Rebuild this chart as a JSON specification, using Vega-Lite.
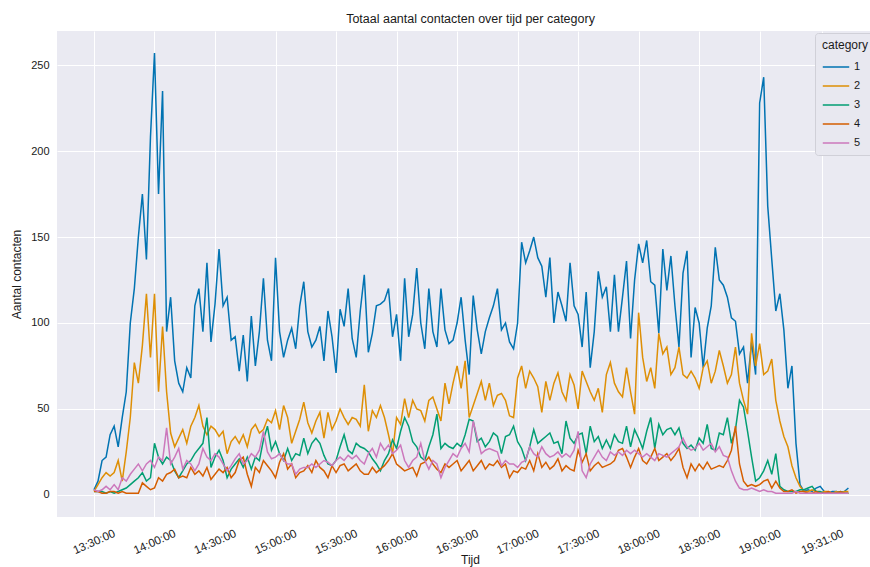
{
"$schema": "https://vega.github.io/schema/vega-lite/v6.json",
"width": 813, "height": 486,
"autosize": {"type": "none"},
"padding": {"left": 57, "top": 31, "right": 0, "bottom": 50},
"background": "white",
"title": {"text": "Totaal aantal contacten over tijd per category", "anchor": "middle", "dx": 7, "fontSize": 12.5, "fontWeight": "normal", "font": "Liberation Sans", "color": "#1a1a1a", "offset": 6},
"data": {"format": {"parse": {"t": "date:'%H:%M'"}}, "values": [
{"t":"13:30","1":3,"2":2,"3":2,"4":2,"5":3},
{"t":"13:32","1":8,"2":6,"3":2,"4":2,"5":2},
{"t":"13:34","1":20,"2":10,"3":2,"4":1,"5":3},
{"t":"13:36","1":22,"2":13,"3":1,"4":1,"5":5},
{"t":"13:38","1":35,"2":11,"3":2,"4":2,"5":3},
{"t":"13:40","1":40,"2":13,"3":1,"4":2,"5":6},
{"t":"13:42","1":28,"2":20,"3":2,"4":1,"5":3},
{"t":"13:44","1":45,"2":8,"3":3,"4":2,"5":10},
{"t":"13:46","1":60,"2":25,"3":4,"4":1,"5":8},
{"t":"13:48","1":100,"2":45,"3":6,"4":1,"5":12},
{"t":"13:50","1":120,"2":77,"3":8,"4":1,"5":15},
{"t":"13:52","1":150,"2":65,"3":10,"4":1,"5":18},
{"t":"13:54","1":175,"2":87,"3":13,"4":7,"5":14},
{"t":"13:56","1":137,"2":117,"3":8,"4":5,"5":18},
{"t":"13:58","1":208,"2":80,"3":10,"4":3,"5":20},
{"t":"14:00","1":257,"2":117,"3":30,"4":4,"5":16},
{"t":"14:02","1":175,"2":60,"3":22,"4":10,"5":22},
{"t":"14:04","1":235,"2":98,"3":18,"4":8,"5":20},
{"t":"14:06","1":95,"2":60,"3":22,"4":12,"5":39},
{"t":"14:08","1":115,"2":36,"3":20,"4":13,"5":18},
{"t":"14:10","1":78,"2":28,"3":14,"4":15,"5":22},
{"t":"14:12","1":65,"2":33,"3":10,"4":10,"5":27},
{"t":"14:14","1":60,"2":38,"3":14,"4":11,"5":15},
{"t":"14:16","1":74,"2":30,"3":18,"4":10,"5":20},
{"t":"14:18","1":68,"2":40,"3":20,"4":16,"5":18},
{"t":"14:20","1":110,"2":45,"3":24,"4":12,"5":14},
{"t":"14:22","1":120,"2":52,"3":27,"4":14,"5":18},
{"t":"14:24","1":95,"2":40,"3":30,"4":11,"5":27},
{"t":"14:26","1":135,"2":35,"3":45,"4":16,"5":22},
{"t":"14:28","1":89,"2":40,"3":16,"4":9,"5":20},
{"t":"14:30","1":111,"2":38,"3":22,"4":12,"5":24},
{"t":"14:32","1":143,"2":34,"3":26,"4":15,"5":22},
{"t":"14:34","1":110,"2":37,"3":20,"4":13,"5":18},
{"t":"14:36","1":115,"2":24,"3":10,"4":16,"5":14},
{"t":"14:38","1":90,"2":31,"3":15,"4":10,"5":17},
{"t":"14:40","1":92,"2":34,"3":18,"4":13,"5":21},
{"t":"14:42","1":72,"2":30,"3":21,"4":20,"5":24},
{"t":"14:44","1":93,"2":35,"3":16,"4":22,"5":18},
{"t":"14:46","1":66,"2":28,"3":22,"4":12,"5":20},
{"t":"14:48","1":104,"2":38,"3":15,"4":5,"5":24},
{"t":"14:50","1":75,"2":41,"3":22,"4":16,"5":22},
{"t":"14:52","1":95,"2":36,"3":20,"4":13,"5":26},
{"t":"14:54","1":126,"2":38,"3":32,"4":20,"5":37},
{"t":"14:56","1":90,"2":44,"3":40,"4":17,"5":25},
{"t":"14:58","1":78,"2":42,"3":26,"4":14,"5":21},
{"t":"15:00","1":138,"2":49,"3":31,"4":10,"5":22},
{"t":"15:02","1":95,"2":38,"3":24,"4":19,"5":24},
{"t":"15:04","1":80,"2":52,"3":20,"4":24,"5":20},
{"t":"15:06","1":90,"2":45,"3":27,"4":15,"5":18},
{"t":"15:08","1":97,"2":30,"3":20,"4":18,"5":18},
{"t":"15:10","1":85,"2":37,"3":24,"4":10,"5":12},
{"t":"15:12","1":110,"2":44,"3":23,"4":13,"5":15},
{"t":"15:14","1":124,"2":54,"3":33,"4":14,"5":16},
{"t":"15:16","1":95,"2":42,"3":24,"4":17,"5":16},
{"t":"15:18","1":86,"2":36,"3":30,"4":13,"5":18},
{"t":"15:20","1":90,"2":43,"3":33,"4":20,"5":16},
{"t":"15:22","1":98,"2":48,"3":30,"4":16,"5":18},
{"t":"15:24","1":78,"2":33,"3":23,"4":14,"5":20},
{"t":"15:26","1":107,"2":48,"3":18,"4":10,"5":19},
{"t":"15:28","1":92,"2":38,"3":17,"4":17,"5":17},
{"t":"15:30","1":71,"2":43,"3":20,"4":13,"5":20},
{"t":"15:32","1":108,"2":50,"3":28,"4":17,"5":22},
{"t":"15:34","1":98,"2":45,"3":35,"4":18,"5":20},
{"t":"15:36","1":120,"2":41,"3":26,"4":14,"5":23},
{"t":"15:38","1":91,"2":45,"3":24,"4":16,"5":21},
{"t":"15:40","1":80,"2":44,"3":30,"4":18,"5":23},
{"t":"15:42","1":107,"2":40,"3":28,"4":14,"5":20},
{"t":"15:44","1":128,"2":64,"3":27,"4":12,"5":18},
{"t":"15:46","1":83,"2":37,"3":25,"4":12,"5":24},
{"t":"15:48","1":94,"2":49,"3":21,"4":16,"5":27},
{"t":"15:50","1":110,"2":45,"3":18,"4":13,"5":22},
{"t":"15:52","1":111,"2":52,"3":14,"4":15,"5":30},
{"t":"15:54","1":113,"2":45,"3":20,"4":17,"5":26},
{"t":"15:56","1":120,"2":35,"3":24,"4":20,"5":29},
{"t":"15:58","1":92,"2":24,"3":32,"4":24,"5":24},
{"t":"16:00","1":105,"2":45,"3":27,"4":18,"5":26},
{"t":"16:02","1":78,"2":41,"3":37,"4":16,"5":29},
{"t":"16:04","1":126,"2":56,"3":45,"4":14,"5":20},
{"t":"16:06","1":92,"2":45,"3":40,"4":15,"5":16},
{"t":"16:08","1":105,"2":55,"3":31,"4":16,"5":20},
{"t":"16:10","1":132,"2":50,"3":28,"4":11,"5":22},
{"t":"16:12","1":100,"2":49,"3":22,"4":18,"5":30},
{"t":"16:14","1":85,"2":43,"3":20,"4":19,"5":20},
{"t":"16:16","1":120,"2":55,"3":28,"4":22,"5":15},
{"t":"16:18","1":95,"2":57,"3":35,"4":18,"5":20},
{"t":"16:20","1":86,"2":50,"3":47,"4":15,"5":18},
{"t":"16:22","1":120,"2":43,"3":27,"4":13,"5":10},
{"t":"16:24","1":96,"2":65,"3":30,"4":18,"5":16},
{"t":"16:26","1":88,"2":53,"3":28,"4":16,"5":20},
{"t":"16:28","1":90,"2":65,"3":27,"4":18,"5":24},
{"t":"16:30","1":100,"2":75,"3":30,"4":20,"5":22},
{"t":"16:32","1":115,"2":62,"3":28,"4":14,"5":27},
{"t":"16:34","1":90,"2":78,"3":35,"4":17,"5":30},
{"t":"16:36","1":70,"2":45,"3":44,"4":20,"5":25},
{"t":"16:38","1":116,"2":52,"3":43,"4":14,"5":43},
{"t":"16:40","1":96,"2":59,"3":31,"4":17,"5":33},
{"t":"16:42","1":82,"2":66,"3":33,"4":20,"5":24},
{"t":"16:44","1":95,"2":55,"3":28,"4":15,"5":26},
{"t":"16:46","1":103,"2":65,"3":31,"4":18,"5":27},
{"t":"16:48","1":110,"2":52,"3":36,"4":17,"5":26},
{"t":"16:50","1":120,"2":58,"3":34,"4":20,"5":25},
{"t":"16:52","1":96,"2":59,"3":24,"4":16,"5":17},
{"t":"16:54","1":100,"2":55,"3":34,"4":18,"5":20},
{"t":"16:56","1":89,"2":46,"3":35,"4":10,"5":18},
{"t":"16:58","1":85,"2":45,"3":40,"4":14,"5":18},
{"t":"17:00","1":100,"2":68,"3":31,"4":13,"5":16},
{"t":"17:02","1":147,"2":75,"3":27,"4":16,"5":19},
{"t":"17:04","1":135,"2":62,"3":20,"4":15,"5":20},
{"t":"17:06","1":142,"2":72,"3":28,"4":20,"5":28},
{"t":"17:08","1":150,"2":68,"3":38,"4":14,"5":24},
{"t":"17:10","1":138,"2":63,"3":30,"4":24,"5":22},
{"t":"17:12","1":133,"2":48,"3":32,"4":16,"5":28},
{"t":"17:14","1":115,"2":66,"3":34,"4":19,"5":24},
{"t":"17:16","1":138,"2":55,"3":36,"4":15,"5":22},
{"t":"17:18","1":100,"2":65,"3":30,"4":17,"5":23},
{"t":"17:20","1":118,"2":71,"3":31,"4":21,"5":25},
{"t":"17:22","1":110,"2":60,"3":24,"4":14,"5":22},
{"t":"17:24","1":101,"2":55,"3":43,"4":17,"5":24},
{"t":"17:26","1":135,"2":70,"3":33,"4":15,"5":22},
{"t":"17:28","1":110,"2":64,"3":30,"4":14,"5":26},
{"t":"17:30","1":105,"2":50,"3":35,"4":26,"5":37},
{"t":"17:32","1":86,"2":72,"3":36,"4":19,"5":14},
{"t":"17:34","1":118,"2":66,"3":24,"4":24,"5":10},
{"t":"17:36","1":74,"2":60,"3":40,"4":14,"5":18},
{"t":"17:38","1":95,"2":55,"3":31,"4":17,"5":22},
{"t":"17:40","1":130,"2":62,"3":34,"4":19,"5":26},
{"t":"17:42","1":115,"2":48,"3":27,"4":16,"5":22},
{"t":"17:44","1":121,"2":70,"3":32,"4":17,"5":20},
{"t":"17:46","1":95,"2":77,"3":27,"4":18,"5":25},
{"t":"17:48","1":128,"2":65,"3":35,"4":20,"5":23},
{"t":"17:50","1":95,"2":60,"3":31,"4":26,"5":25},
{"t":"17:52","1":115,"2":57,"3":30,"4":27,"5":23},
{"t":"17:54","1":136,"2":74,"3":40,"4":22,"5":26},
{"t":"17:56","1":91,"2":60,"3":28,"4":16,"5":24},
{"t":"17:58","1":125,"2":47,"3":38,"4":22,"5":26},
{"t":"18:00","1":146,"2":106,"3":33,"4":27,"5":24},
{"t":"18:02","1":135,"2":80,"3":27,"4":20,"5":22},
{"t":"18:04","1":148,"2":66,"3":37,"4":18,"5":24},
{"t":"18:06","1":124,"2":74,"3":45,"4":22,"5":22},
{"t":"18:08","1":122,"2":62,"3":27,"4":27,"5":20},
{"t":"18:10","1":94,"2":94,"3":41,"4":20,"5":24},
{"t":"18:12","1":143,"2":82,"3":35,"4":22,"5":23},
{"t":"18:14","1":119,"2":86,"3":38,"4":24,"5":22},
{"t":"18:16","1":139,"2":70,"3":39,"4":20,"5":24},
{"t":"18:18","1":110,"2":74,"3":35,"4":23,"5":26},
{"t":"18:20","1":86,"2":86,"3":39,"4":27,"5":28},
{"t":"18:22","1":129,"2":70,"3":30,"4":16,"5":33},
{"t":"18:24","1":142,"2":68,"3":27,"4":10,"5":28},
{"t":"18:26","1":80,"2":72,"3":29,"4":18,"5":26},
{"t":"18:28","1":109,"2":68,"3":26,"4":14,"5":27},
{"t":"18:30","1":100,"2":62,"3":33,"4":18,"5":30},
{"t":"18:32","1":74,"2":74,"3":30,"4":15,"5":26},
{"t":"18:34","1":97,"2":78,"3":41,"4":19,"5":28},
{"t":"18:36","1":110,"2":65,"3":27,"4":15,"5":30},
{"t":"18:38","1":144,"2":72,"3":26,"4":16,"5":25},
{"t":"18:40","1":125,"2":84,"3":36,"4":17,"5":28},
{"t":"18:42","1":122,"2":75,"3":35,"4":16,"5":23},
{"t":"18:44","1":115,"2":65,"3":45,"4":20,"5":22},
{"t":"18:46","1":103,"2":70,"3":30,"4":26,"5":14},
{"t":"18:48","1":101,"2":86,"3":38,"4":40,"5":8},
{"t":"18:50","1":82,"2":65,"3":55,"4":18,"5":4},
{"t":"18:52","1":86,"2":55,"3":51,"4":8,"5":3},
{"t":"18:54","1":65,"2":47,"3":37,"4":5,"5":3},
{"t":"18:56","1":89,"2":94,"3":22,"4":6,"5":4},
{"t":"18:58","1":70,"2":75,"3":8,"4":5,"5":3},
{"t":"19:00","1":228,"2":88,"3":10,"4":6,"5":2},
{"t":"19:02","1":243,"2":70,"3":14,"4":8,"5":3},
{"t":"19:04","1":168,"2":72,"3":20,"4":9,"5":2},
{"t":"19:06","1":137,"2":79,"3":12,"4":4,"5":2},
{"t":"19:08","1":107,"2":55,"3":24,"4":8,"5":1},
{"t":"19:10","1":117,"2":43,"3":5,"4":4,"5":1},
{"t":"19:12","1":96,"2":34,"3":3,"4":2,"5":1},
{"t":"19:14","1":62,"2":28,"3":2,"4":2,"5":1},
{"t":"19:16","1":75,"2":17,"3":2,"4":3,"5":1},
{"t":"19:18","1":30,"2":10,"3":2,"4":1,"5":2},
{"t":"19:20","1":6,"2":5,"3":3,"4":2,"5":1},
{"t":"19:22","1":2,"2":2,"3":3,"4":2,"5":1},
{"t":"19:24","1":3,"2":2,"3":4,"4":1,"5":1},
{"t":"19:26","1":2,"2":3,"3":5,"4":1,"5":1},
{"t":"19:28","1":4,"2":2,"3":2,"4":2,"5":1},
{"t":"19:30","1":5,"2":1,"3":2,"4":1,"5":1},
{"t":"19:32","1":2,"2":2,"3":1,"4":1,"5":1},
{"t":"19:34","1":1,"2":2,"3":1,"4":2,"5":1},
{"t":"19:36","1":2,"2":1,"3":1,"4":1,"5":1},
{"t":"19:38","1":2,"2":2,"3":1,"4":1,"5":1},
{"t":"19:40","1":1,"2":1,"3":2,"4":2,"5":1},
{"t":"19:42","1":2,"2":2,"3":1,"4":1,"5":1},
{"t":"19:44","1":4,"2":2,"3":1,"4":1,"5":1}
]},
"transform": [{"fold": ["1","2","3","4","5"], "as": ["category", "v"]}],
"mark": {"type": "line", "strokeWidth": 1.5},
"encoding": {
"x": {"field": "t", "type": "temporal", "title": "Tijd",
 "scale": {"domain": [{"year":1900,"month":1,"date":1,"hours":13,"minutes":11,"seconds":40},{"year":1900,"month":1,"date":1,"hours":19,"minutes":54,"seconds":42}]},
 "axis": {"values": [
  {"year":1900,"month":1,"date":1,"hours":13,"minutes":30},
  {"year":1900,"month":1,"date":1,"hours":14,"minutes":0},
  {"year":1900,"month":1,"date":1,"hours":14,"minutes":30},
  {"year":1900,"month":1,"date":1,"hours":15,"minutes":0},
  {"year":1900,"month":1,"date":1,"hours":15,"minutes":30},
  {"year":1900,"month":1,"date":1,"hours":16,"minutes":0},
  {"year":1900,"month":1,"date":1,"hours":16,"minutes":30},
  {"year":1900,"month":1,"date":1,"hours":17,"minutes":0},
  {"year":1900,"month":1,"date":1,"hours":17,"minutes":30},
  {"year":1900,"month":1,"date":1,"hours":18,"minutes":0},
  {"year":1900,"month":1,"date":1,"hours":18,"minutes":30},
  {"year":1900,"month":1,"date":1,"hours":19,"minutes":0},
  {"year":1900,"month":1,"date":1,"hours":19,"minutes":31}],
  "format": "%H:%M:%S", "labelAngle": -24, "labelAlign": "center", "labelBaseline": "middle", "labelPadding": 25, "labelFontSize": 11.5,
  "titleX": 413, "titleY": 46, "titleBaseline": "alphabetic", "titleAnchor": "middle"}},
"y": {"field": "v", "type": "quantitative", "title": "Aantal contacten",
 "scale": {"domain": [-12.85, 269.85], "nice": false, "zero": false},
 "axis": {"values": [0, 50, 100, 150, 200, 250], "labelPadding": 8, "titlePadding": 7}},
"color": {"field": "category", "type": "nominal", "title": "category",
 "scale": {"domain": ["1","2","3","4","5"], "range": ["#0173B2","#DE8F05","#029E73","#D55E00","#CC78BC"]},
 "legend": {"orient": "none", "legendX": 758, "legendY": 2, "symbolType": "stroke", "symbolSize": 700, "symbolStrokeWidth": 1.5, "fillColor": "#E8E8F0", "strokeColor": "#D0D0D8", "cornerRadius": 3, "padding": 7, "titleFontSize": 12, "titleFontWeight": "normal", "titleFont": "Liberation Sans", "titleColor": "#1a1a1a", "titlePadding": 1, "labelFontSize": 11, "labelFont": "Liberation Sans", "labelColor": "#1a1a1a", "rowPadding": -3}}
},
"config": {
 "view": {"fill": "#EAEAF2", "stroke": null},
 "axis": {"domain": false, "ticks": false, "gridColor": "#FFFFFF", "gridWidth": 1, "gridOpacity": 1, "labelFont": "Liberation Sans", "labelFontSize": 11, "labelColor": "#1a1a1a", "titleFont": "Liberation Sans", "titleFontSize": 12, "titleFontWeight": "normal", "titleColor": "#1a1a1a"}
}
}
